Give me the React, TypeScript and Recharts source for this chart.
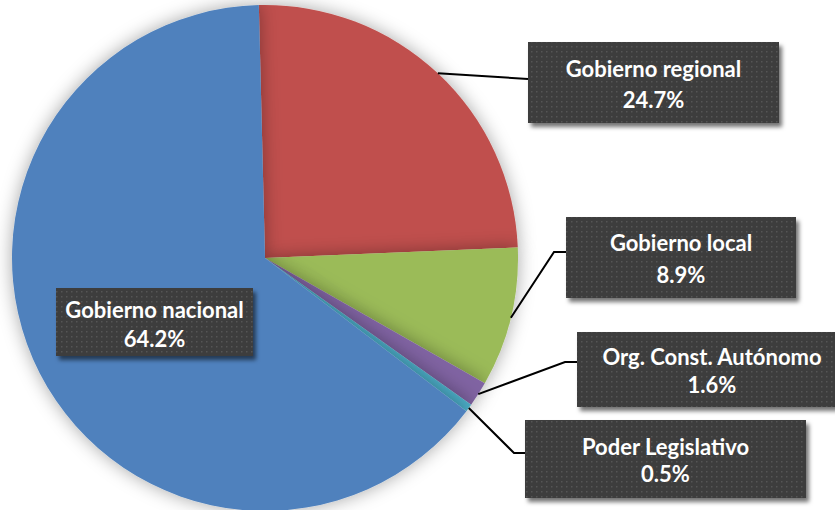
import React from "react";
import { PieChart, Pie, Cell } from "recharts";

const categories = [
  "Gobierno regional",
  "Gobierno local",
  "Org. Const. Autónomo",
  "Poder Legislativo",
  "Gobierno nacional",
];
const shares = [24.7, 8.9, 1.6, 0.5, 64.2];
const colors = ["#C0504D", "#9BBB59", "#8064A2", "#4BACC6", "#4F81BD"];

const data = categories.map((name, i) => ({ name, value: shares[i] }));

// callout boxes, placed by hand like the original
type Callout = {
  box: [number, number, number, number];
  elbow?: [number, number];
  end?: [number, number];
  line1: number;
  line2: number;
};
const callouts: Callout[] = [
  { box: [528, 42, 251, 81], end: [528, 79], line1: 77, line2: 108 },
  { box: [566, 217, 230, 81], elbow: [554, 252], end: [566, 252], line1: 251, line2: 283 },
  { box: [577, 332, 270, 75], elbow: [565, 362], end: [577, 362], line1: 365, line2: 393 },
  { box: [525, 420, 281, 78], elbow: [514, 453], end: [525, 453], line1: 455, line2: 482 },
  { box: [56, 288, 197, 68], line1: 318, line2: 347 },
];

const RAD = Math.PI / 180;

const renderLabel = (props: any) => {
  const { cx, cy, midAngle, outerRadius, index, value, name } = props;
  const c = callouts[index];
  if (!c) return null;
  const [bx, by, bw, bh] = c.box;
  const tx = bx + bw / 2;
  let pts = "";
  if (c.end) {
    const sx = cx + outerRadius * Math.cos(-midAngle * RAD);
    const sy = cy + outerRadius * Math.sin(-midAngle * RAD);
    const list = [[sx, sy]] as number[][];
    if (c.elbow) list.push(c.elbow);
    list.push(c.end);
    pts = list.map((p) => p.join(",")).join(" ");
  }
  return (
    <g key={`lbl-${index}`}>
      {pts && <polyline points={pts} fill="none" stroke="#000" strokeWidth={2} />}
      <rect x={bx} y={by} width={bw} height={bh} fill="url(#dots)" filter="url(#boxShadow)" />
      <text
        x={tx}
        y={c.line1}
        textAnchor="middle"
        fill="#fff"
        fontFamily="Lato, sans-serif"
        fontWeight={700}
        fontSize={22}
      >
        {name}
      </text>
      <text
        x={tx}
        y={c.line2}
        textAnchor="middle"
        fill="#fff"
        fontFamily="Lato, sans-serif"
        fontWeight={700}
        fontSize={22}
      >
        {`${value.toFixed(1)}%`}
      </text>
    </g>
  );
};

export default function App() {
  return (
    <div style={{ position: "absolute", left: 0, top: 0, background: "#fff" }}>
      <PieChart width={835} height={510} margin={{ top: 0, right: 0, bottom: 0, left: 0 }}>
        <defs>
          <pattern id="dots" width={5} height={5} patternUnits="userSpaceOnUse">
            <rect width={5} height={5} fill="#3d3d3d" />
            <rect x={1} y={1} width={1.5} height={1.5} fill="#555" />
          </pattern>
          <filter id="boxShadow" x="-10%" y="-10%" width="130%" height="140%">
            <feDropShadow dx={3} dy={4} stdDeviation={2} floodColor="#000" floodOpacity={0.55} />
          </filter>
          <filter id="glow" x="-15%" y="-15%" width="130%" height="130%">
            <feDropShadow dx={0} dy={0} stdDeviation={9} floodColor="#000" floodOpacity={0.35} />
          </filter>
        </defs>
        <Pie
          data={data}
          dataKey="value"
          nameKey="name"
          cx={265}
          cy={258}
          outerRadius={253}
          startAngle={91.4}
          endAngle={-268.6}
          stroke="none"
          label={renderLabel}
          labelLine={false}
          isAnimationActive={false}
          style={{ filter: "url(#glow)" }}
        >
          {data.map((d, i) => (
            <Cell key={d.name} fill={colors[i]} />
          ))}
        </Pie>
      </PieChart>
    </div>
  );
}
